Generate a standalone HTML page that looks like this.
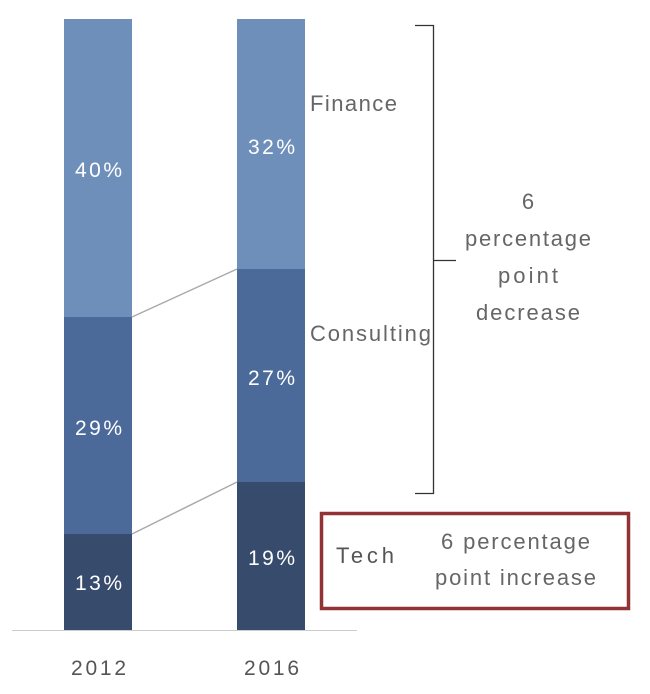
<!DOCTYPE html>
<html><head><style>
body{margin:0;width:650px;height:689px;background:#fff;overflow:hidden}
svg text{font-family:"Liberation Sans",sans-serif}
</style></head><body>
<svg width="650" height="689" xmlns="http://www.w3.org/2000/svg">
<rect x="64" y="19" width="68" height="298" fill="#6f8fbb"/>
<rect x="64" y="317" width="68" height="217" fill="#4b6a99"/>
<rect x="64" y="534" width="68" height="96" fill="#374b6c"/>
<rect x="237" y="19" width="68" height="250" fill="#6f8fbb"/>
<rect x="237" y="269" width="68" height="213" fill="#4b6a99"/>
<rect x="237" y="482" width="68" height="148" fill="#374b6c"/>
<line x1="132" y1="317" x2="237" y2="269" stroke="#aaa" stroke-width="1.5"/>
<line x1="132" y1="534" x2="237" y2="482" stroke="#aaa" stroke-width="1.5"/>
<line x1="12" y1="630.5" x2="357" y2="630.5" stroke="#ccc" stroke-width="1"/>
<g fill="#fff" font-size="21">
<text x="75" y="177" textLength="47">40%</text><text x="75" y="435" textLength="47">29%</text><text x="75" y="590" textLength="47">13%</text>
<text x="248" y="154" textLength="47">32%</text><text x="248" y="385" textLength="47">27%</text><text x="248" y="565" textLength="47">19%</text>
</g>
<g fill="#555" font-size="21">
<text x="71" y="675" textLength="55">2012</text><text x="244" y="675" textLength="55">2016</text>
</g>
<g fill="#666" font-size="22">
<text x="310" y="111" textLength="87">Finance</text>
<text x="310" y="341" textLength="121">Consulting</text>
</g>
<path d="M415 25.5H433.5V493.5H415M433.5 260.5H456" fill="none" stroke="#333" stroke-width="1.3"/>
<g fill="#666" font-size="22" text-anchor="middle">
<text x="528" y="209">6</text><text x="528" y="246" textLength="126">percentage</text>
<text x="528" y="283" textLength="60">point</text><text x="528" y="320" textLength="104">decrease</text>
</g>
<rect x="321.5" y="513.5" width="307" height="95" fill="none" stroke="#913235" stroke-width="3.5"/>
<text x="336" y="563" fill="#555" font-size="22" textLength="58">Tech</text>
<g fill="#666" font-size="22">
<text x="441" y="549" textLength="149">6 percentage</text><text x="435" y="585" textLength="161">point increase</text>
</g>
</svg>
</body></html>
